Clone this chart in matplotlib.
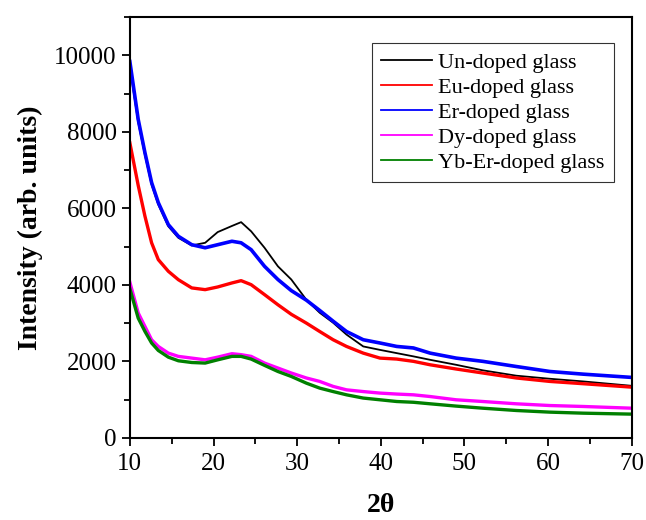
import matplotlib
matplotlib.use('Agg')
from matplotlib import pyplot as plt
from matplotlib.ticker import MultipleLocator, AutoMinorLocator

# Data (2-theta, intensity)
two_theta = [10, 11, 11.8, 12.6, 13.4, 14.6, 15.8, 17.4, 19, 20.5, 22.2, 23.3, 24.5, 26.1,
             27.7, 29.3, 31.1, 32.7, 34.3, 35.9, 37.9, 39.9, 41.9, 43.9, 45.9, 49,
             52.2, 56.2, 60.2, 64.2, 70]
undoped = [9700, 8250, 7400, 6620, 6100, 5530, 5230, 5030, 5100, 5380, 5540, 5640, 5400, 4970,
           4485, 4140, 3610, 3270, 3010, 2700, 2390, 2300, 2215, 2130, 2040, 1910,
           1765, 1625, 1545, 1475, 1360]
eu_doped = [7715, 6600, 5800, 5100, 4660, 4355, 4135, 3920, 3875, 3945, 4050, 4110, 4005, 3745,
            3480, 3230, 3000, 2780, 2565, 2390, 2215, 2085, 2060, 2000, 1910, 1800,
            1695, 1565, 1475, 1415, 1325]
er_doped = [9840, 8325, 7460, 6675, 6150, 5575, 5270, 5050, 4970, 5050, 5140, 5100, 4920, 4485,
            4140, 3850, 3600, 3330, 3050, 2780, 2565, 2480, 2390, 2350, 2215, 2085,
            2000, 1865, 1735, 1665, 1580]
dy_doped = [4070, 3265, 2915, 2565, 2390, 2215, 2130, 2085, 2040, 2110, 2200, 2175, 2130, 1955,
            1825, 1695, 1565, 1475, 1345, 1255, 1210, 1170, 1145, 1125, 1080, 995,
            950, 890, 845, 820, 775]
yber_doped = [3900, 3130, 2785, 2480, 2285, 2110, 2015, 1970, 1955, 2040, 2130, 2130, 2060, 1895,
              1735, 1605, 1430, 1300, 1210, 1125, 1040, 995, 950, 930, 890, 830,
              775, 715, 672, 645, 620]

labels = ['Un-doped glass', 'Eu-doped glass', 'Er-doped glass', 'Dy-doped glass', 'Yb-Er-doped glass']
colors = ['black', 'red', 'blue', 'magenta', 'green']
series = [undoped, eu_doped, er_doped, dy_doped, yber_doped]
widths = [1.3, 2.4, 2.6, 2.4, 2.4]

plt.rcParams['font.family'] = ['Liberation Serif', 'DejaVu Serif']

fig = plt.figure(figsize=(6.46, 5.2), dpi=100)
ax = fig.add_axes([0.201, 0.158, 0.777, 0.809])

for y, c, lab, lw in zip(series, colors, labels, widths):
    ax.plot(two_theta, y, color=c, lw=lw, label=lab)

ax.set_xlim(10, 70)
ax.set_ylim(0, 11000)
ax.xaxis.set_major_locator(MultipleLocator(10))
ax.xaxis.set_minor_locator(AutoMinorLocator(2))
ax.yaxis.set_major_locator(MultipleLocator(2000))
ax.yaxis.set_minor_locator(AutoMinorLocator(2))

ax.tick_params(which='both', direction='out', top=False, right=False, labelsize=18, width=1.3)
ax.tick_params(which='major', length=6)
ax.tick_params(axis='x', pad=5)
ax.tick_params(which='minor', length=4)
for s in ax.spines.values():
    s.set_linewidth(1.5)

ax.set_xlabel('2θ', fontsize=20, fontweight='bold', labelpad=13)
ax.set_ylabel('Intensity (arb. units)', fontsize=20, fontweight='bold', labelpad=8)

leg = ax.legend(loc='upper right', bbox_to_anchor=(0.964, 0.938), borderaxespad=0,
                fontsize=16, frameon=True, fancybox=False, handlelength=2.3,
                labelspacing=0.2, handletextpad=0.3, borderpad=0.4)
leg.get_frame().set_edgecolor('black')
leg.get_frame().set_linewidth(0.8)
for h in leg.get_lines():
    h.set_linewidth(1.3)

fig.savefig('out.png', dpi=100)
